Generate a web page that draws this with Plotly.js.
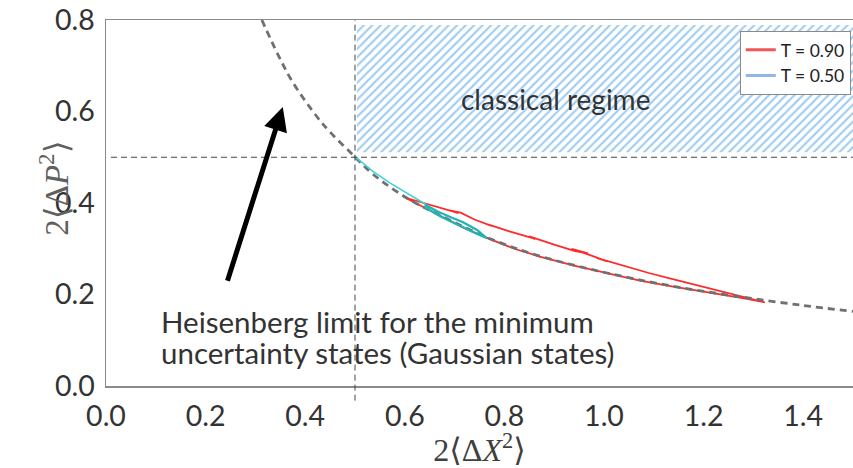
<!DOCTYPE html>
<html>
<head>
<meta charset="utf-8">
<script src="https://cdn.plot.ly/plotly-3.0.1.min.js"></script>
<style>
  html, body { margin: 0; padding: 0; background: #fff; }
  #chart { width: 853px; height: 468px; }
</style>
</head>
<body>
<div id="chart"></div>
<script>
// Heisenberg limit 2<ΔX²>·2<ΔP²> = 1/4 (minimum uncertainty / Gaussian states)
const limitX = [0.313, 0.345, 0.375, 0.424, 0.450, 0.498, 0.536, 0.604, 0.671, 0.771, 0.871, 1.006, 1.139, 1.273, 1.400, 1.500];
const limitY = [0.800, 0.725, 0.664, 0.588, 0.555, 0.503, 0.463, 0.411, 0.373, 0.322, 0.284, 0.247, 0.218, 0.195, 0.176, 0.163];

// Trajectory for T = 0.90: outgoing upper branch (with a few short retraced
// stretches), then back along the limit
const t90X = [0.600, 0.640, 0.680, 0.708, 0.690, 0.712, 0.740, 0.774, 0.785, 0.770, 0.810, 0.855, 0.862, 0.850, 0.900, 0.942, 0.968, 0.935,
              0.972, 0.990, 1.005, 0.985, 1.040, 1.090, 1.140, 1.183, 1.205, 1.175, 1.230, 1.278, 1.292, 1.270, 1.323,
              1.273, 1.200, 1.139, 1.070, 1.006, 0.940, 0.871, 0.820, 0.771, 0.720, 0.671, 0.640, 0.604];
const t90Y = [0.412, 0.399, 0.386, 0.378, 0.384, 0.379, 0.364, 0.350, 0.346, 0.352, 0.338, 0.324, 0.321, 0.327, 0.309, 0.295, 0.290, 0.300,
              0.286, 0.278, 0.273, 0.280, 0.262, 0.247, 0.233, 0.221, 0.216, 0.224, 0.208, 0.195, 0.191, 0.197, 0.183,
              0.193, 0.206, 0.217, 0.231, 0.246, 0.263, 0.283, 0.300, 0.321, 0.345, 0.372, 0.390, 0.410];

// Trajectory for T = 0.50: approach from the corner, then a small loop
const t50ApproachX = [0.498, 0.536, 0.570, 0.604, 0.635, 0.665];
const t50ApproachY = [0.503, 0.469, 0.444, 0.422, 0.401, 0.382];
const t50LoopX = [0.640, 0.665, 0.690, 0.717, 0.745, 0.765, 0.740, 0.705, 0.671, 0.640];
const t50LoopY = [0.396, 0.382, 0.370, 0.358, 0.341, 0.323, 0.335, 0.353, 0.371, 0.391];

// Classical regime region
const classicalX = [0.504, 1.50, 1.50, 0.504, 0.504];
const classicalY = [0.511, 0.511, 0.789, 0.789, 0.511];

// Axis ticks
const xTicks = [0.0, 0.2, 0.4, 0.6, 0.8, 1.0, 1.2, 1.4];
const xTickText = ['0.0', '0.2', '0.4', '0.6', '0.8', '1.0', '1.2', '1.4'];
const yTicks = [0.0, 0.2, 0.4, 0.6, 0.8];
const yTickText = ['0.0', '0.2', '0.4', '0.6', '0.8'];

const sans = 'Lato, "Open Sans", sans-serif';
const serif = '"Liberation Serif", "DejaVu Serif", serif';

const traces = [
  {
    x: classicalX, y: classicalY, mode: 'lines', fill: 'toself',
    line: {width: 0, color: 'rgba(0,0,0,0)'},
    fillcolor: 'white',
    fillpattern: {shape: '/', fgcolor: '#9ecbf2', bgcolor: 'white', size: 6, solidity: 0.35},
    hoverinfo: 'skip', showlegend: false
  },
  {
    x: t90X, y: t90Y, mode: 'lines',
    line: {color: '#ff2a2a', width: 1.8},
    hoverinfo: 'skip', showlegend: false
  },
  {
    x: limitX, y: limitY, mode: 'lines', line: {shape: 'spline', color: '#707070', width: 2.8, dash: '7px,5px'},
    hoverinfo: 'skip', showlegend: false
  },
  {
    x: t50ApproachX, y: t50ApproachY, mode: 'lines',
    line: {color: '#3fd3d3', width: 1.6},
    hoverinfo: 'skip', showlegend: false
  },
  {
    x: t50LoopX, y: t50LoopY, mode: 'lines',
    line: {color: '#1fb5b5', width: 2.2},
    hoverinfo: 'skip', showlegend: false
  },
  // legend entries
  {x: [null], y: [null], mode: 'lines', name: 'T = 0.90', line: {color: '#f25656', width: 3}},
  {x: [null], y: [null], mode: 'lines', name: 'T = 0.50', line: {color: '#8db8e8', width: 3}}
];

const layout = {
  width: 853, height: 468,
  margin: {l: 106, r: 0, t: 20, b: 82},
  paper_bgcolor: 'white', plot_bgcolor: 'white',
  font: {family: sans, color: '#333'},
  xaxis: {
    range: [0, 1.5], tickvals: xTicks, ticktext: xTickText,
    showgrid: false, zeroline: false, ticks: '',
    showline: true, linecolor: '#8a8a8a', linewidth: 1.5, mirror: true,
    tickfont: {family: sans, size: 28.5, color: '#333'}, ticklabelstandoff: 4,
    title: {text: '2⟨Δ<i>X</i><sup>2</sup>⟩', font: {family: serif, size: 32, color: '#404040'}, standoff: 6}
  },
  yaxis: {
    range: [0, 0.8], tickvals: yTicks, ticktext: yTickText,
    showgrid: false, zeroline: false, ticks: '',
    showline: true, linecolor: '#8a8a8a', linewidth: 1.5,
    tickfont: {family: sans, size: 28.5, color: '#333'}, ticklabelstandoff: 4
  },
  legend: {
    x: 0.997, xanchor: 'right', y: 0.97, yanchor: 'top',
    bgcolor: 'white', bordercolor: '#8a8a8a', borderwidth: 1,
    font: {family: sans, size: 17.5, color: '#222'}
  },
  shapes: [
    {type: 'line', xref: 'x', yref: 'paper', x0: 0.5, x1: 0.5, y0: -0.04, y1: 1,
     line: {color: '#444', width: 1, dash: '6px,4px'}},
    {type: 'line', xref: 'x', yref: 'y', x0: 0.01, x1: 1.5, y0: 0.5, y1: 0.5,
     line: {color: '#444', width: 1, dash: '6px,4px'}}
  ],
  annotations: [
    {xref: 'paper', yref: 'paper', x: -0.1, y: 0.54, textangle: -90, showarrow: false,
     text: '2⟨Δ<i>P</i><sup>2</sup>⟩', font: {family: serif, size: 33, color: '#606060'}},
    {xref: 'x', yref: 'y', x: 0.902, y: 0.627, showarrow: false,
     text: 'classical regime', font: {family: sans, size: 28, color: '#333'}},
    {xref: 'x', yref: 'y', x: 0.106, y: 0.141, xanchor: 'left', showarrow: false,
     text: 'Heisenberg limit for the minimum', font: {family: sans, size: 29.5, color: '#333'}},
    {xref: 'x', yref: 'y', x: 0.106, y: 0.073, xanchor: 'left', showarrow: false,
     text: 'uncertainty states (Gaussian states)', font: {family: sans, size: 29.5, color: '#333'}},
    {xref: 'x', yref: 'y', axref: 'x', ayref: 'y',
     x: 0.355, y: 0.610, ax: 0.243, ay: 0.227, text: '',
     showarrow: true, arrowhead: 2, arrowsize: 0.95, arrowwidth: 5, arrowcolor: '#000'}
  ]
};

Plotly.newPlot('chart', traces, layout, {displayModeBar: false, staticPlot: true});
</script>
</body>
</html>
